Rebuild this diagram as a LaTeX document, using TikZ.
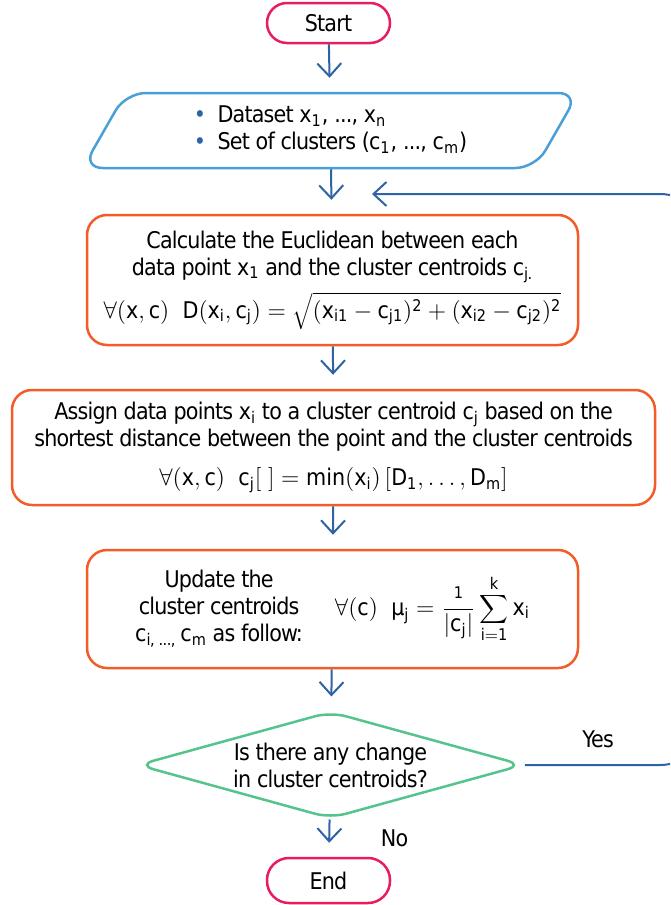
\documentclass[tikz,border=0pt]{standalone}
\usepackage{fontspec}
\setmainfont{DejaVu Sans Condensed}[LetterSpace=-3.5]
\usetikzlibrary{shapes.geometric,arrows.meta}
\definecolor{termc}{RGB}{232,30,92}
\definecolor{datac}{RGB}{74,160,214}
\definecolor{procc}{RGB}{242,92,40}
\definecolor{decc}{RGB}{84,196,140}
\definecolor{flowc}{RGB}{46,99,166}
\tikzset{
  term/.style={draw=termc, line width=1.25pt, rounded corners=10pt,
    minimum width=61.5pt, minimum height=20pt},
  inout/.style={draw=datac, line width=1.25pt, trapezium, trapezium stretches,
    rounded corners=10pt, trapezium left angle=62, trapezium right angle=118,
    minimum width=248pt, minimum height=37.5pt, inner sep=0pt},
  proc/.style={draw=procc, line width=1.25pt, rounded corners=10pt, align=center},
  decide/.style={draw=decc, line width=1.25pt, diamond, rounded corners=8pt,
    aspect=3.6, minimum width=193pt, minimum height=53.5pt, inner sep=0pt, align=center},
  flow/.style={draw=flowc, line width=1pt, -{Straight Barb[length=6.5pt,width=12pt]}}
}
\begin{document}
\begin{tikzpicture}[x=0.5pt, y=-0.5pt, font=\fontsize{11.5}{13.5}\selectfont]
  \useasboundingbox (0,0) rectangle (670,905);
  \clip (0,0) rectangle (670,905);
  \node[term] (start) at (328.5,23) {Start};
  \node[inout] (data) at (330.5,130.5) {%
    \begin{tabular}{@{}l@{}}
      {\color{flowc}\textbullet}\enspace Dataset x\textsubscript{1}, ..., x\textsubscript{n}\\
      {\color{flowc}\textbullet}\enspace Set of clusters (c\textsubscript{1}, ..., c\textsubscript{m})
    \end{tabular}};
  \node[proc, minimum width=245.5pt, minimum height=65pt] (dist) at (332.5,280)
    {Calculate the Euclidean between each\\
     data point x\textsubscript{1} and the cluster centroids c\textsubscript{j.}\\[4pt]
     $\forall\mathrm{(x, c)}\;\;\mathrm{D(x_i, c_j)} =
      \sqrt{\mathrm{(x_{i1} - c_{j1})^2 + (x_{i2} - c_{j2})^2}}$};
  \node[proc, minimum width=321.5pt, minimum height=57.5pt] (assign) at (333.5,447.5)
    {Assign data points x\textsubscript{i} to a cluster centroid c\textsubscript{j} based on the\\
     shortest distance between the point and the cluster centroids\\[6pt]
     $\forall\mathrm{(x, c)}\;\;\mathrm{c_j[\;] = min(x_i)\,[D_1, \ldots, D_m]}$};
  \node[proc, minimum width=245.5pt, minimum height=59pt] (update) at (332.5,609)
    {\begin{tabular}{@{}c@{}}
       Update the\\ cluster centroids\\ c\textsubscript{i, ..., }c\textsubscript{m} as follow:
     \end{tabular}\hspace{16pt}%
     $\displaystyle\forall\mathrm{(c)}\;\;\textrm{μ}_{\mathrm{j}} =
      \frac{\scriptstyle\mathrm{1}}{\mathrm{|c_j|}}\sum_{\mathrm{i=1}}^{\mathrm{k}}\mathrm{x_i}$};
  \node[decide] (check) at (330.5,765) {Is there any change\\in cluster centroids?};
  \node[term, minimum height=22.5pt, rounded corners=11pt] (end) at (328.5,880.5) {End};
  \coordinate (back) at (372,194);
  \begin{scope}[flow, shorten >=7pt]
    \draw (start) to (data);
    \draw (data) to (dist);
    \draw (dist) to (assign);
    \draw (assign) to (update);
    \draw (update) to (check);
    \draw (check) to node[right=22pt] (no) {No} (end);
  \end{scope}
  \draw[flow, rounded corners=24pt] (check.east) -- node[above=5pt, pos=0.4] (yes) {Yes} (708,765)
    -- (708,194) -- (back);
\end{tikzpicture}
\end{document}
